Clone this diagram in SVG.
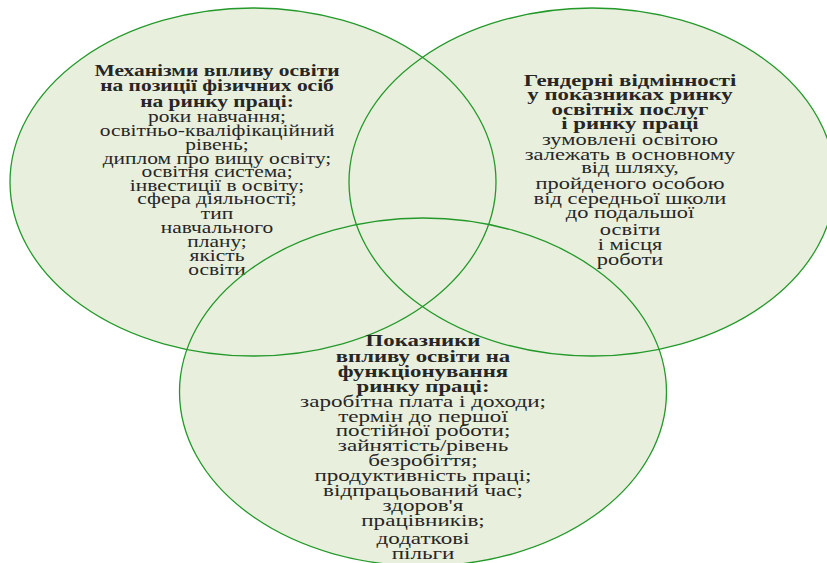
<svg xmlns="http://www.w3.org/2000/svg" width="827" height="563" viewBox="0 0 827 563">
<style>
.fill{fill:#E9EFDD;stroke:none}
.ring{fill:none;stroke:#23992A;stroke-width:1.3}
.t{font-family:"Liberation Serif","Times New Roman",serif;font-size:16.5px;fill:#262626;text-anchor:middle}
.b{font-weight:bold}
</style>
<rect width="827" height="563" fill="#ffffff"/>
<g id="fills">
<ellipse class="fill" cx="253" cy="182" rx="243" ry="174"/>
<ellipse class="fill" cx="592" cy="182" rx="243" ry="174"/>
<ellipse class="fill" cx="423" cy="392" rx="243.5" ry="174"/>
</g>
<g id="connectors"></g>
<g id="node-mechanisms">
<ellipse class="ring" cx="253" cy="182" rx="243" ry="174"/>
<g class="t" transform="translate(217,0) scale(1.3,1)">
<text class="b" x="0" y="76">Механізми впливу освіти</text>
<text class="b" x="0" y="91">на позиції фізичних осіб</text>
<text class="b" x="0" y="107">на ринку праці:</text>
</g>
<g class="t" transform="translate(217,0) scale(1.3,1)">
<text x="0" y="122.5">роки навчання;</text>
<text x="0" y="136">освітньо-кваліфікаційний</text>
<text x="0" y="150.5">рівень;</text>
<text x="0" y="164">диплом про вищу освіту;</text>
<text x="0" y="177.5">освітня система;</text>
<text x="0" y="191">інвестиції в освіту;</text>
<text x="0" y="204.5">сфера діяльності;</text>
<text x="0" y="219">тип</text>
<text x="0" y="233">навчального</text>
<text x="0" y="247">плану;</text>
<text x="0" y="261">якість</text>
<text x="0" y="275.5">освіти</text>
</g>
</g>
<g id="node-gender">
<ellipse class="ring" cx="592" cy="182" rx="243" ry="174"/>
<g class="t" transform="translate(630,0) scale(1.38,1)">
<text class="b" x="0" y="86">Гендерні відмінності</text>
<text class="b" x="0" y="100.5">у показниках ринку</text>
<text class="b" x="0" y="115">освітніх послуг</text>
<text class="b" x="0" y="129.5">і ринку праці</text>
</g>
<g class="t" transform="translate(630,0) scale(1.36,1)">
<text x="0" y="145">зумовлені освітою</text>
<text x="0" y="160">залежать в основному</text>
<text x="0" y="173.5">від шляху,</text>
<text x="0" y="189">пройденого особою</text>
<text x="0" y="204">від середньої школи</text>
<text x="0" y="218">до подальшої</text>
<text x="0" y="235.5">освіти</text>
<text x="0" y="250.5">і місця</text>
<text x="0" y="265.5">роботи</text>
</g>
</g>
<g id="node-indicators">
<ellipse class="ring" cx="423" cy="392" rx="243.5" ry="174"/>
<g class="t" transform="translate(423,0) scale(1.38,1)">
<text class="b" x="0" y="346">Показники</text>
<text class="b" x="0" y="362.5">впливу освіти на</text>
<text class="b" x="0" y="377.5">функціонування</text>
<text class="b" x="0" y="392.5">ринку праці:</text>
</g>
<g class="t" transform="translate(423,0) scale(1.4,1)">
<text x="0" y="407.5">заробітна плата і доходи;</text>
<text x="0" y="422">термін до першої</text>
<text x="0" y="436">постійної роботи;</text>
<text x="0" y="451">зайнятість/рівень</text>
<text x="0" y="466">безробіття;</text>
<text x="0" y="481">продуктивність праці;</text>
<text x="0" y="496">відпрацьований час;</text>
<text x="0" y="511.5">здоров'я</text>
<text x="0" y="526">працівників;</text>
<text x="0" y="544">додаткові</text>
<text x="0" y="559">пільги</text>
</g>
</g>
</svg>
